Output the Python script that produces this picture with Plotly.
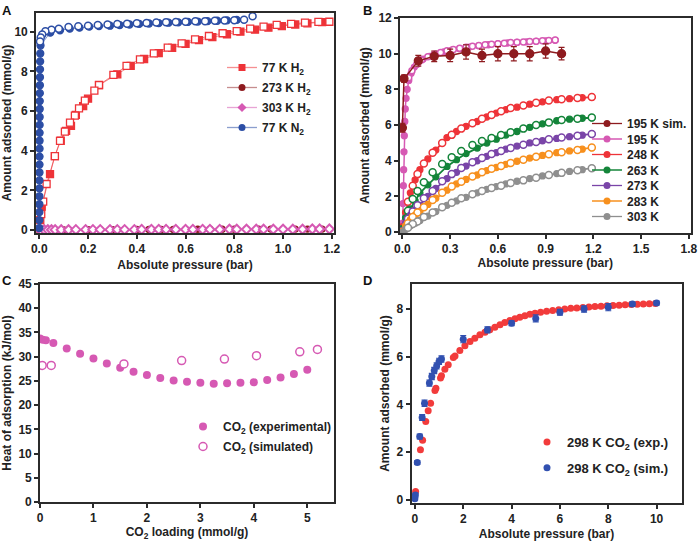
import plotly.graph_objects as go

# ---------------- Panel A data ----------------
h2_77_ads_p = [0.004, 0.01, 0.044, 0.064, 0.088, 0.11, 0.13, 0.15, 0.18, 0.2, 0.245, 0.32, 0.375, 0.43,
               0.49, 0.545, 0.6, 0.655, 0.71, 0.77, 0.825, 0.885, 0.94, 0.995, 1.05, 1.1, 1.16]
h2_77_ads_q = [0.5, 1.18, 2.82, 3.73, 4.5, 5.0, 5.25, 5.8, 6.25, 6.62, 7.3, 7.85, 8.27, 8.62,
               8.92, 9.18, 9.38, 9.57, 9.72, 9.87, 10.0, 10.1, 10.2, 10.28, 10.36, 10.42, 10.48]
h2_77_des_p = [1.19, 1.145, 1.09, 1.033, 0.974, 0.92, 0.865, 0.81, 0.752, 0.696, 0.639, 0.584, 0.527, 0.47,
               0.413, 0.358, 0.304, 0.245, 0.226, 0.187, 0.163, 0.146, 0.126, 0.105, 0.085, 0.064, 0.03, 0.016, 0.008]
h2_77_des_q = [10.5, 10.49, 10.45, 10.39, 10.34, 10.25, 10.15, 10.03, 9.92, 9.78, 9.61, 9.41, 9.19, 8.9,
               8.6, 8.27, 7.82, 7.31, 7.03, 6.52, 6.13, 5.77, 5.41, 4.96, 4.49, 3.73, 2.32, 1.43, 0.8]

h2_273_p = [0.0, 0.05, 0.1, 0.15, 0.2, 0.25, 0.3, 0.35, 0.4, 0.45, 0.5, 0.55, 0.6, 0.65, 0.7, 0.75, 0.8,
            0.85, 0.9, 0.95, 1.0, 1.05, 1.1, 1.16]
h2_273_q = [0.0, 0.01, 0.01, 0.01, 0.02, 0.02, 0.02, 0.02, 0.03, 0.03, 0.03, 0.03, 0.03, 0.04, 0.04, 0.04, 0.04,
            0.04, 0.04, 0.05, 0.05, 0.05, 0.05, 0.05]

h2_303_p = [0.005, 0.02, 0.035, 0.05, 0.065, 0.09, 0.12, 0.15, 0.19, 0.22, 0.25, 0.29, 0.32, 0.35, 0.39,
            0.42, 0.46, 0.49, 0.52, 0.56, 0.6, 0.63, 0.67, 0.7, 0.74, 0.78, 0.81, 0.85, 0.89, 0.92, 0.96,
            1.0, 1.04, 1.08, 1.12, 1.15, 1.19]
h2_303_q = [0.0, 0.01, 0.01, 0.01, 0.01, 0.01, 0.01, 0.02, 0.02, 0.02, 0.02, 0.02, 0.02, 0.02, 0.02,
            0.03, 0.03, 0.03, 0.03, 0.03, 0.03, 0.03, 0.03, 0.03, 0.03, 0.04, 0.04, 0.04, 0.04, 0.04, 0.04,
            0.04, 0.04, 0.04, 0.05, 0.05, 0.05]

n2_ads_p = [0.0001, 0.0002, 0.0003, 0.0004, 0.0005, 0.0006, 0.0007, 0.0008, 0.0009, 0.001, 0.0011,
            0.0012, 0.0013, 0.0014, 0.0015, 0.0017, 0.0019, 0.0021, 0.0024, 0.0027, 0.003, 0.0035, 0.004,
            0.005, 0.045, 0.085, 0.125, 0.165, 0.205, 0.245, 0.29, 0.33, 0.37, 0.41, 0.45, 0.49, 0.53,
            0.57, 0.61, 0.65, 0.69, 0.73, 0.77, 0.81]
n2_ads_q = [0.1, 0.5, 0.9, 1.3, 1.7, 2.1, 2.5, 2.9, 3.3, 3.7, 4.1, 4.5, 4.9, 5.3, 5.7, 6.1, 6.5, 6.9, 7.3,
            7.7, 8.1, 8.5, 8.9, 9.3, 9.95, 10.07, 10.15, 10.2, 10.25, 10.28, 10.3, 10.33, 10.36, 10.39,
            10.41, 10.43, 10.45, 10.47, 10.49, 10.51, 10.53, 10.55, 10.57, 10.59]
n2_des_p = [0.875, 0.84, 0.80, 0.76, 0.72, 0.68, 0.64, 0.60, 0.56, 0.52, 0.48, 0.44, 0.40, 0.36, 0.32, 0.28,
            0.24, 0.20, 0.16, 0.12, 0.08, 0.05, 0.025, 0.012, 0.006, 0.003]
n2_des_q = [10.78, 10.6, 10.58, 10.56, 10.55, 10.53, 10.52, 10.5, 10.49, 10.48, 10.46, 10.44, 10.42, 10.4,
            10.38, 10.36, 10.33, 10.3, 10.27, 10.23, 10.15, 10.1, 10.02, 9.85, 9.7, 9.5]

# ---------------- Panel B data ----------------
sim195_p = [0.0, 0.01, 0.1, 0.2, 0.3, 0.4, 0.5, 0.6, 0.7, 0.8, 0.9, 1.0]
sim195_q = [5.85, 8.6, 9.6, 9.85, 9.9, 10.1, 9.9, 10.0, 10.0, 10.0, 10.15, 10.0]
sim195_err = [0.25, 0.2, 0.3, 0.3, 0.35, 0.4, 0.35, 0.4, 0.4, 0.4, 0.4, 0.35]

co2_195_ads_p = [0.002, 0.004, 0.006, 0.008, 0.01, 0.012, 0.015, 0.018, 0.023, 0.03, 0.04, 0.055, 0.075,
                 0.1, 0.13, 0.17, 0.21, 0.26, 0.31, 0.36, 0.42, 0.48, 0.54, 0.6, 0.66, 0.72, 0.78, 0.84,
                 0.9, 0.96]
co2_195_ads_q = [0.5, 1.6, 2.6, 3.5, 4.5, 5.4, 6.2, 6.9, 7.5, 8.0, 8.5, 8.9, 9.25, 9.5, 9.7, 9.85, 9.98,
                 10.1, 10.2, 10.28, 10.37, 10.44, 10.5, 10.55, 10.6, 10.63, 10.66, 10.69, 10.72, 10.75]
co2_195_des_p = [0.96, 0.92, 0.88, 0.84, 0.8, 0.76, 0.72, 0.68, 0.64, 0.6, 0.56, 0.52, 0.48, 0.44, 0.4,
                 0.36, 0.32, 0.28, 0.24, 0.2, 0.16, 0.12, 0.09, 0.06, 0.04]
co2_195_des_q = [10.76, 10.74, 10.72, 10.7, 10.68, 10.66, 10.64, 10.62, 10.59, 10.56, 10.53, 10.5, 10.46,
                 10.41, 10.36, 10.3, 10.24, 10.16, 10.07, 9.97, 9.83, 9.65, 9.4, 9.05, 8.65]

b_ads_p = [0.0, 0.02, 0.05, 0.08, 0.11, 0.16, 0.21, 0.28, 0.34, 0.4, 0.47, 0.53, 0.59, 0.65, 0.72, 0.8,
           0.88, 0.97, 1.05, 1.13, 1.19]
co2_248_ads_q = [0.3, 1.1, 2.2, 2.93, 3.5, 4.1, 4.6, 5.3, 5.64, 5.93, 6.2, 6.45, 6.67, 6.86, 7.0, 7.17,
                 7.3, 7.42, 7.48, 7.53, 7.56]
co2_263_ads_q = [0.2, 0.8, 1.3, 1.75, 2.19, 2.65, 3.1, 3.68, 4.06, 4.4, 4.71, 4.99, 5.21, 5.44, 5.64, 5.87,
                 6.07, 6.24, 6.33, 6.38, 6.41]
co2_273_ads_q = [0.1, 0.5, 0.95, 1.25, 1.5, 2.0, 2.45, 3.0, 3.35, 3.7, 4.0, 4.25, 4.45, 4.65, 4.82, 5.0,
                 5.12, 5.25, 5.35, 5.43, 5.5]
co2_283_ads_q = [0.05, 0.35, 0.7, 0.95, 1.15, 1.55, 1.9, 2.35, 2.7, 2.95, 3.2, 3.45, 3.62, 3.8, 3.97, 4.15,
                 4.3, 4.45, 4.55, 4.65, 4.73]
co2_303_ads_q = [0.0, 0.15, 0.35, 0.5, 0.65, 0.9, 1.15, 1.5, 1.75, 1.95, 2.2, 2.4, 2.55, 2.7, 2.85, 3.0,
                 3.15, 3.28, 3.4, 3.5, 3.58]

b_des_p = [1.19, 1.1, 1.0, 0.92, 0.84, 0.76, 0.68, 0.62, 0.56, 0.5, 0.44, 0.37, 0.31, 0.25, 0.19, 0.135,
           0.095, 0.065, 0.035]
co2_248_des_q = [7.57, 7.52, 7.45, 7.37, 7.25, 7.1, 6.95, 6.78, 6.57, 6.35, 6.1, 5.8, 5.45, 5.0, 4.45,
                 3.85, 3.25, 2.6, 1.7]
co2_263_des_q = [6.42, 6.36, 6.28, 6.15, 6.0, 5.8, 5.6, 5.44, 5.28, 5.1, 4.88, 4.55, 4.2, 3.82, 3.35, 2.8,
                 2.3, 1.85, 1.2]
co2_273_des_q = [5.5, 5.4, 5.3, 5.2, 5.05, 4.9, 4.72, 4.55, 4.38, 4.15, 3.92, 3.6, 3.25, 2.85, 2.3, 1.9,
                 1.5, 1.15, 0.75]
co2_283_des_q = [4.74, 4.6, 4.48, 4.36, 4.22, 4.05, 3.87, 3.7, 3.55, 3.35, 3.12, 2.82, 2.55, 2.2, 1.8, 1.4,
                 1.1, 0.85, 0.5]
co2_303_des_q = [3.58, 3.47, 3.32, 3.2, 3.05, 2.9, 2.75, 2.6, 2.47, 2.3, 2.12, 1.9, 1.65, 1.4, 1.1, 0.85,
                 0.6, 0.45, 0.25]

# ---------------- Panel C data ----------------
qst_exp_load = [0.0, 0.05, 0.11, 0.25, 0.5, 0.75, 1.0, 1.25, 1.5, 1.75, 2.0, 2.25, 2.5, 2.75, 3.0, 3.25,
                3.5, 3.75, 4.0, 4.25, 4.5, 4.75, 5.0]
qst_exp = [33.75, 33.5, 33.4, 32.8, 31.7, 30.6, 29.6, 28.6, 27.7, 26.9, 26.2, 25.6, 25.1, 24.8, 24.6, 24.4,
           24.5, 24.6, 24.7, 25.2, 25.7, 26.4, 27.3]
qst_sim_load = [0.04, 0.21, 1.57, 2.65, 3.45, 4.05, 4.86, 5.19]
qst_sim = [28.2, 28.2, 28.5, 29.2, 29.5, 30.2, 31.0, 31.5]

# ---------------- Panel D data ----------------
d_exp_p = [0.03, 0.23, 0.32, 0.45, 0.55, 0.65, 0.83, 0.87, 1.06, 1.1, 1.24, 1.38, 1.59, 1.66, 1.86, 2.07,
           2.28, 2.48, 2.69, 2.9, 3.1, 3.31, 3.52, 3.72, 3.93, 4.14, 4.34, 4.55, 4.76, 4.97, 5.2, 5.45,
           5.7, 5.95, 6.2, 6.45, 6.7, 6.95, 7.2, 7.45, 7.7, 7.95, 8.2, 8.45, 8.7, 8.95, 9.2, 9.45, 9.7, 9.95]
d_exp_q = [0.35, 2.1, 2.5, 3.28, 3.73, 4.05, 4.58, 4.68, 5.1, 5.2, 5.47, 5.66, 5.96, 6.03, 6.26, 6.45,
           6.63, 6.77, 6.91, 7.02, 7.12, 7.23, 7.33, 7.43, 7.51, 7.58, 7.65, 7.71, 7.77, 7.82, 7.86, 7.9,
           7.93, 7.96, 7.99, 8.02, 8.04, 8.06, 8.08, 8.1, 8.11, 8.13, 8.14, 8.15, 8.17, 8.18, 8.19, 8.2, 8.21, 8.22]
d_sim_p = [0.0, 0.02, 0.1, 0.2, 0.3, 0.4, 0.6, 0.7, 0.8, 0.9, 1.0, 1.1, 2.0, 3.0, 4.0, 5.0, 6.0, 7.0, 8.0, 9.0, 10.0]
d_sim_q = [0.05, 0.2, 1.57, 2.65, 3.45, 4.05, 4.89, 5.17, 5.42, 5.61, 5.8, 5.9, 6.73, 7.12, 7.4, 7.6, 7.86,
           7.99, 8.07, 8.2, 8.24]
d_sim_err = [0.05, 0.08, 0.08, 0.1, 0.12, 0.13, 0.13, 0.13, 0.13, 0.13, 0.13, 0.13, 0.15, 0.13, 0.1, 0.15,
             0.12, 0.13, 0.15, 0.08, 0.08]

# ---------------- styling ----------------
RED = "#ee3338"
DRED = "#8e1b1f"
PINK = "#d659b3"
BLUE = "#2c4ea5"
GREEN = "#14853a"
PURPLE = "#7a45a8"
ORANGE = "#f7901e"
GRAY = "#8f8f8f"
FONT = "Liberation Sans"
AX = "#2b2b2b"

W, H = 700, 541


def sx(px):
    return px / W


def sy(py):
    return 1 - py / H


fig = go.Figure()


def sc(x, y, ax, color, symbol="circle", size=6, filled=True, lines=True, lcolor=None, lwidth=1.3,
       mlw=1.3, err=None):
    t = go.Scatter(
        x=x, y=y, xaxis="x" + ax, yaxis="y" + ax,
        mode="lines+markers" if lines else "markers",
        line=dict(color=lcolor or color, width=lwidth),
        marker=dict(symbol=symbol, size=size, color=color if filled else "white",
                    line=dict(color=color, width=mlw)),
        showlegend=False,
    )
    if err is not None:
        t.error_y = dict(type="data", array=err, color=color, thickness=1.2, width=3)
    return t


def leg(name, color, legend, symbol="circle", ax="", lines=True, lcolor=None, size=7):
    return go.Scatter(x=[None], y=[None], xaxis="x" + ax, yaxis="y" + ax,
                      mode="lines+markers" if lines else "markers",
                      line=dict(color=lcolor or color, width=1.3),
                      marker=dict(symbol=symbol, size=size, color=color, line=dict(width=0)),
                      name=name, legend=legend, legendgroup=name, showlegend=True)


# Panel A
fig.add_trace(sc(h2_273_p, h2_273_q, "", DRED, size=6, lcolor="rgba(142,27,31,0.5)", lwidth=1))
fig.add_trace(sc(h2_303_p, h2_303_q, "", PINK, symbol="diamond", size=7, filled=False, mlw=2,
                 lcolor="rgba(214,89,179,0.5)", lwidth=1))
fig.add_trace(sc(h2_77_ads_p, h2_77_ads_q, "", RED, symbol="square", size=7,
                 lcolor="rgba(238,51,56,0.6)", lwidth=1))
fig.add_trace(sc(h2_77_des_p, h2_77_des_q, "", RED, symbol="square", size=7, filled=False, mlw=1.3,
                 lcolor="rgba(238,51,56,0.6)", lwidth=1))
fig.add_trace(sc(n2_ads_p, n2_ads_q, "", BLUE, size=7, lcolor="rgba(44,78,165,0.6)", lwidth=1))
fig.add_trace(sc(n2_des_p, n2_des_q, "", BLUE, size=7, filled=False, mlw=1.5, lines=False))
fig.add_trace(leg("77 K H<sub>2</sub>", RED, "legend", "square", lcolor="rgba(238,51,56,0.55)"))
fig.add_trace(leg("273 K H<sub>2</sub>", DRED, "legend", lcolor="rgba(142,27,31,0.5)"))
fig.add_trace(leg("303 K H<sub>2</sub>", PINK, "legend", "diamond", lcolor="rgba(214,89,179,0.55)"))
fig.add_trace(leg("77 K N<sub>2</sub>", BLUE, "legend", lcolor="rgba(44,78,165,0.55)"))

# Panel B
fig.add_trace(sc(co2_195_ads_p, co2_195_ads_q, "2", PINK, size=6, lwidth=1.5))
fig.add_trace(sc(co2_195_des_p, co2_195_des_q, "2", PINK, size=6, filled=False, lines=False, mlw=1.5))
fig.add_trace(sc(sim195_p, sim195_q, "2", DRED, size=8, lwidth=1.5, err=sim195_err))
for q_a, q_d, col in [(co2_248_ads_q, co2_248_des_q, RED), (co2_263_ads_q, co2_263_des_q, GREEN),
                      (co2_273_ads_q, co2_273_des_q, PURPLE), (co2_283_ads_q, co2_283_des_q, ORANGE),
                      (co2_303_ads_q, co2_303_des_q, GRAY)]:
    fig.add_trace(sc(b_ads_p, q_a, "2", col, size=6, lwidth=1.8))
    fig.add_trace(sc(b_des_p, q_d, "2", col, size=7, filled=False, lines=False, mlw=1.5))
# legend of panel B split into two interleaved legends to reach the tight row spacing
for nm, col, lg in [("195 K sim.", DRED, "legend2"), ("195 K", PINK, "legend5"), ("248 K", RED, "legend2"),
                    ("263 K", GREEN, "legend5"), ("273 K", PURPLE, "legend2"), ("283 K", ORANGE, "legend5"),
                    ("303 K", GRAY, "legend2")]:
    fig.add_trace(leg(nm, col, lg, ax="2"))

# Panel C
tC1 = sc(qst_exp_load, qst_exp, "3", PINK, size=8, lines=False, mlw=0)
tC1.update(name="CO<sub>2</sub> (experimental)", legend="legend3", legendgroup="c1", showlegend=True)
tC2 = sc(qst_sim_load, qst_sim, "3", PINK, size=8, filled=False, lines=False, mlw=1.5)
tC2.update(name="CO<sub>2</sub> (simulated)", legend="legend3", legendgroup="c2", showlegend=True)
fig.add_trace(tC1)
fig.add_trace(tC2)

# Panel D
tD1 = sc(d_exp_p, d_exp_q, "4", "#f23b3b", size=7, lines=False, mlw=0)
tD1.update(name="298 K CO<sub>2</sub> (exp.)", legend="legend4", legendgroup="d1", showlegend=True)
tD2 = sc(d_sim_p, d_sim_q, "4", "#3150b0", size=7, lines=False, mlw=0, err=d_sim_err)
tD2.update(name="298 K CO<sub>2</sub> (sim.)", legend="legend4", legendgroup="d2", showlegend=True)
fig.add_trace(tD1)
fig.add_trace(tD2)


def dx(a, b):
    return [sx(a), sx(b)]


def dy(top, bot):
    return [sy(bot), sy(top)]


tickfont = dict(family=FONT, size=12, color="#222", weight="bold")
titlefont = dict(family=FONT, size=12, color="#222", weight="bold")


def axis(domain, rng, dtick, title, anchor, fmt=None, standoff=None):
    d = dict(domain=domain, range=rng, dtick=dtick, tick0=0, showgrid=False, zeroline=False,
             showline=True, linecolor=AX, linewidth=1.6, mirror=True, ticks="outside",
             ticklen=4, tickwidth=1.5, tickcolor=AX, tickfont=tickfont, automargin=True,
             title=dict(text=title, font=titlefont), anchor=anchor)
    if fmt:
        d["tickformat"] = fmt
    if standoff is not None:
        d["title"]["standoff"] = standoff
    return d


def legbox(px, py, size=12, gap=1):
    return dict(x=sx(px), y=sy(py), xanchor="left", yanchor="top", bgcolor="rgba(0,0,0,0)",
                font=dict(family=FONT, size=size, color="#222", weight="bold"), itemwidth=30,
                tracegroupgap=gap, traceorder="grouped")


lab = "Amount adsorbed (mmol/g)"
press = "Absolute pressure (bar)"
fig.update_layout(
    width=W, height=H, margin=dict(l=0, r=0, t=0, b=0, autoexpand=False),
    paper_bgcolor="white", plot_bgcolor="white",
    font=dict(family=FONT, size=12, color="#222"),
    xaxis=axis(dx(36, 334), [-0.0135, 1.209], 0.2, press, "y", ".1f", 5),
    yaxis=axis(dy(13, 233), [-0.15, 10.94], 2, lab, "x", None, 6),
    xaxis2=axis(dx(400, 690.5), [-0.015, 1.81], 0.3, press, "y2", ".1f", 3),
    yaxis2=axis(dy(18, 233), [-0.05, 12.0], 2, lab, "x2", None, 6),
    xaxis3=axis(dx(40, 334), [0, 5.5], 1, "CO<sub>2</sub> loading (mmol/g)", "y3", None, 5),
    yaxis3=axis(dy(284, 502), [0, 45], 5, "Heat of adsorption (kJ/mol)", "x3", None, 6),
    xaxis4=axis(dx(411.5, 681.5), [-0.14, 11.03], 2, press, "y4", None, 5),
    yaxis4=axis(dy(284, 503), [-0.13, 9.04], 2, lab, "x4", None, 4),
    legend=legbox(222, 53, 12, 1),
    legend2=legbox(587, 109, 12, 12),
    legend5=legbox(587, 124.5, 12, 12),
    legend3=legbox(183, 412, 12, 1),
    legend4=legbox(527, 427, 13, 6),
)

for txt, x, y in [("A", 0, 1), ("B", 361, 1), ("C", 0, 271), ("D", 361, 271)]:
    fig.add_annotation(text=txt, x=sx(x), y=sy(y), xref="paper", yref="paper", xanchor="left",
                       yanchor="top", showarrow=False,
                       font=dict(family=FONT, size=13, color="#111", weight="bold"))

fig.write_html("out.html", config={"displayModeBar": False},
               post_script="document.body.style.margin='0';")
